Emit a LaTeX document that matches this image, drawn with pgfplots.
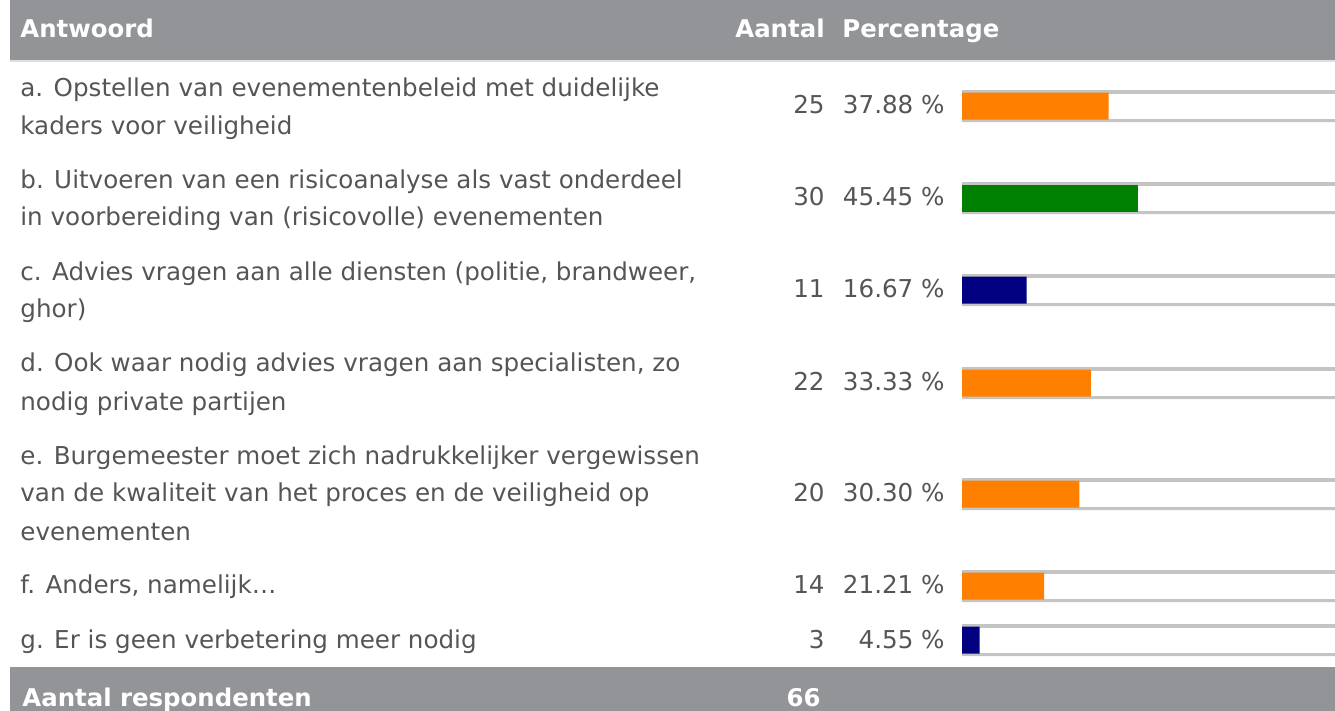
\documentclass[border=0pt]{standalone}
\usepackage{fontspec}
\setmainfont{DejaVu Sans}
\usepackage{pgfplots}
\pgfplotsset{compat=1.18}
\definecolor{hdr}{HTML}{939498}
\definecolor{txt}{HTML}{555555}
\definecolor{trk}{HTML}{C4C4C4}
\definecolor{cor}{HTML}{FF8000}
\definecolor{cgr}{HTML}{008000}
\definecolor{cnv}{HTML}{000080}
\begin{document}
\begin{tikzpicture}
\begin{scope}[x=0.5pt,y=-0.5pt]
\path[use as bounding box] (0,0) rectangle (1335,711);
\fill[hdr] (10,0) rectangle (1335,60);
\fill[hdr] (10,667) rectangle (1335,711);
\draw[gray!25,line width=1pt] (10,61) -- (1335,61);
\begin{scope}[every node/.style={inner sep=0pt,font=\fontsize{12.2}{14}\selectfont\bfseries,text=white}]
\node[anchor=base west] at (20,38) {Antwoord};
\node[anchor=base east] at (825,38) {Aantal};
\node[anchor=base west] at (842,38) {Percentage};
\node[anchor=base west] at (22,706) {Aantal respondenten};
\node[anchor=base east] at (821,706) {66};
\end{scope}
\begin{scope}[every node/.style={inner sep=0pt,font=\fontsize{12.3}{14}\selectfont,text=txt}]
\node[anchor=base west] at (20,97) {a. Opstellen van evenementenbeleid met duidelijke};
\node[anchor=base west] at (20,135) {kaders voor veiligheid};
\node[anchor=base west] at (20,189) {b. Uitvoeren van een risicoanalyse als vast onderdeel};
\node[anchor=base west] at (20,226) {in voorbereiding van (risicovolle) evenementen};
\node[anchor=base west] at (20,281) {c. Advies vragen aan alle diensten (politie, brandweer,};
\node[anchor=base west] at (20,318) {ghor)};
\node[anchor=base west] at (20,372) {d. Ook waar nodig advies vragen aan specialisten, zo};
\node[anchor=base west] at (20,411) {nodig private partijen};
\node[anchor=base west] at (20,465) {e. Burgemeester moet zich nadrukkelijker vergewissen};
\node[anchor=base west] at (20,502) {van de kwaliteit van het proces en de veiligheid op};
\node[anchor=base west] at (20,540) {evenementen};
\node[anchor=base west] at (20,594) {f. Anders, namelijk…};
\node[anchor=base west] at (20,648) {g. Er is geen verbetering meer nodig};
\node[anchor=base east] at (825,114) {25};
\node[anchor=base east] at (825,206) {30};
\node[anchor=base east] at (825,298) {11};
\node[anchor=base east] at (825,391) {22};
\node[anchor=base east] at (825,502) {20};
\node[anchor=base east] at (825,594) {14};
\node[anchor=base east] at (825,648) {3};
\node[anchor=base east] at (945,114) {37.88 \%};
\node[anchor=base east] at (945,206) {45.45 \%};
\node[anchor=base east] at (945,298) {16.67 \%};
\node[anchor=base east] at (945,391) {33.33 \%};
\node[anchor=base east] at (945,502) {30.30 \%};
\node[anchor=base east] at (945,594) {21.21 \%};
\node[anchor=base east] at (945,648) {4.55 \%};
\end{scope}
\end{scope}
\begin{axis}[at={(481pt,0pt)}, anchor=north west, scale only axis,
  width=186.5pt, height=355.5pt, xmin=0, xmax=96.38, ymin=0, ymax=711,
  y dir=reverse, axis lines=none, clip=true]
\addplot[xbar, bar shift=0pt, bar width=32, fill=trk, draw=none]
  coordinates {(100,106) (100,198) (100,290) (100,383) (100,494) (100,586) (100,640)};
\addplot[xbar, bar shift=0pt, bar width=26, fill=white, draw=trk, line width=0.5pt]
  coordinates {(100,106) (100,198) (100,290) (100,383) (100,494) (100,586) (100,640)};
\addplot[xbar, bar shift=0pt, bar width=27, fill=cor, draw=none]
  coordinates {(37.88,106) (33.33,383) (30.30,494) (21.21,586)};
\addplot[xbar, bar shift=0pt, bar width=27, fill=cgr, draw=none]
  coordinates {(45.45,198)};
\addplot[xbar, bar shift=0pt, bar width=27, fill=cnv, draw=none]
  coordinates {(16.67,290) (4.55,640)};
\end{axis}
\end{tikzpicture}
\end{document}
